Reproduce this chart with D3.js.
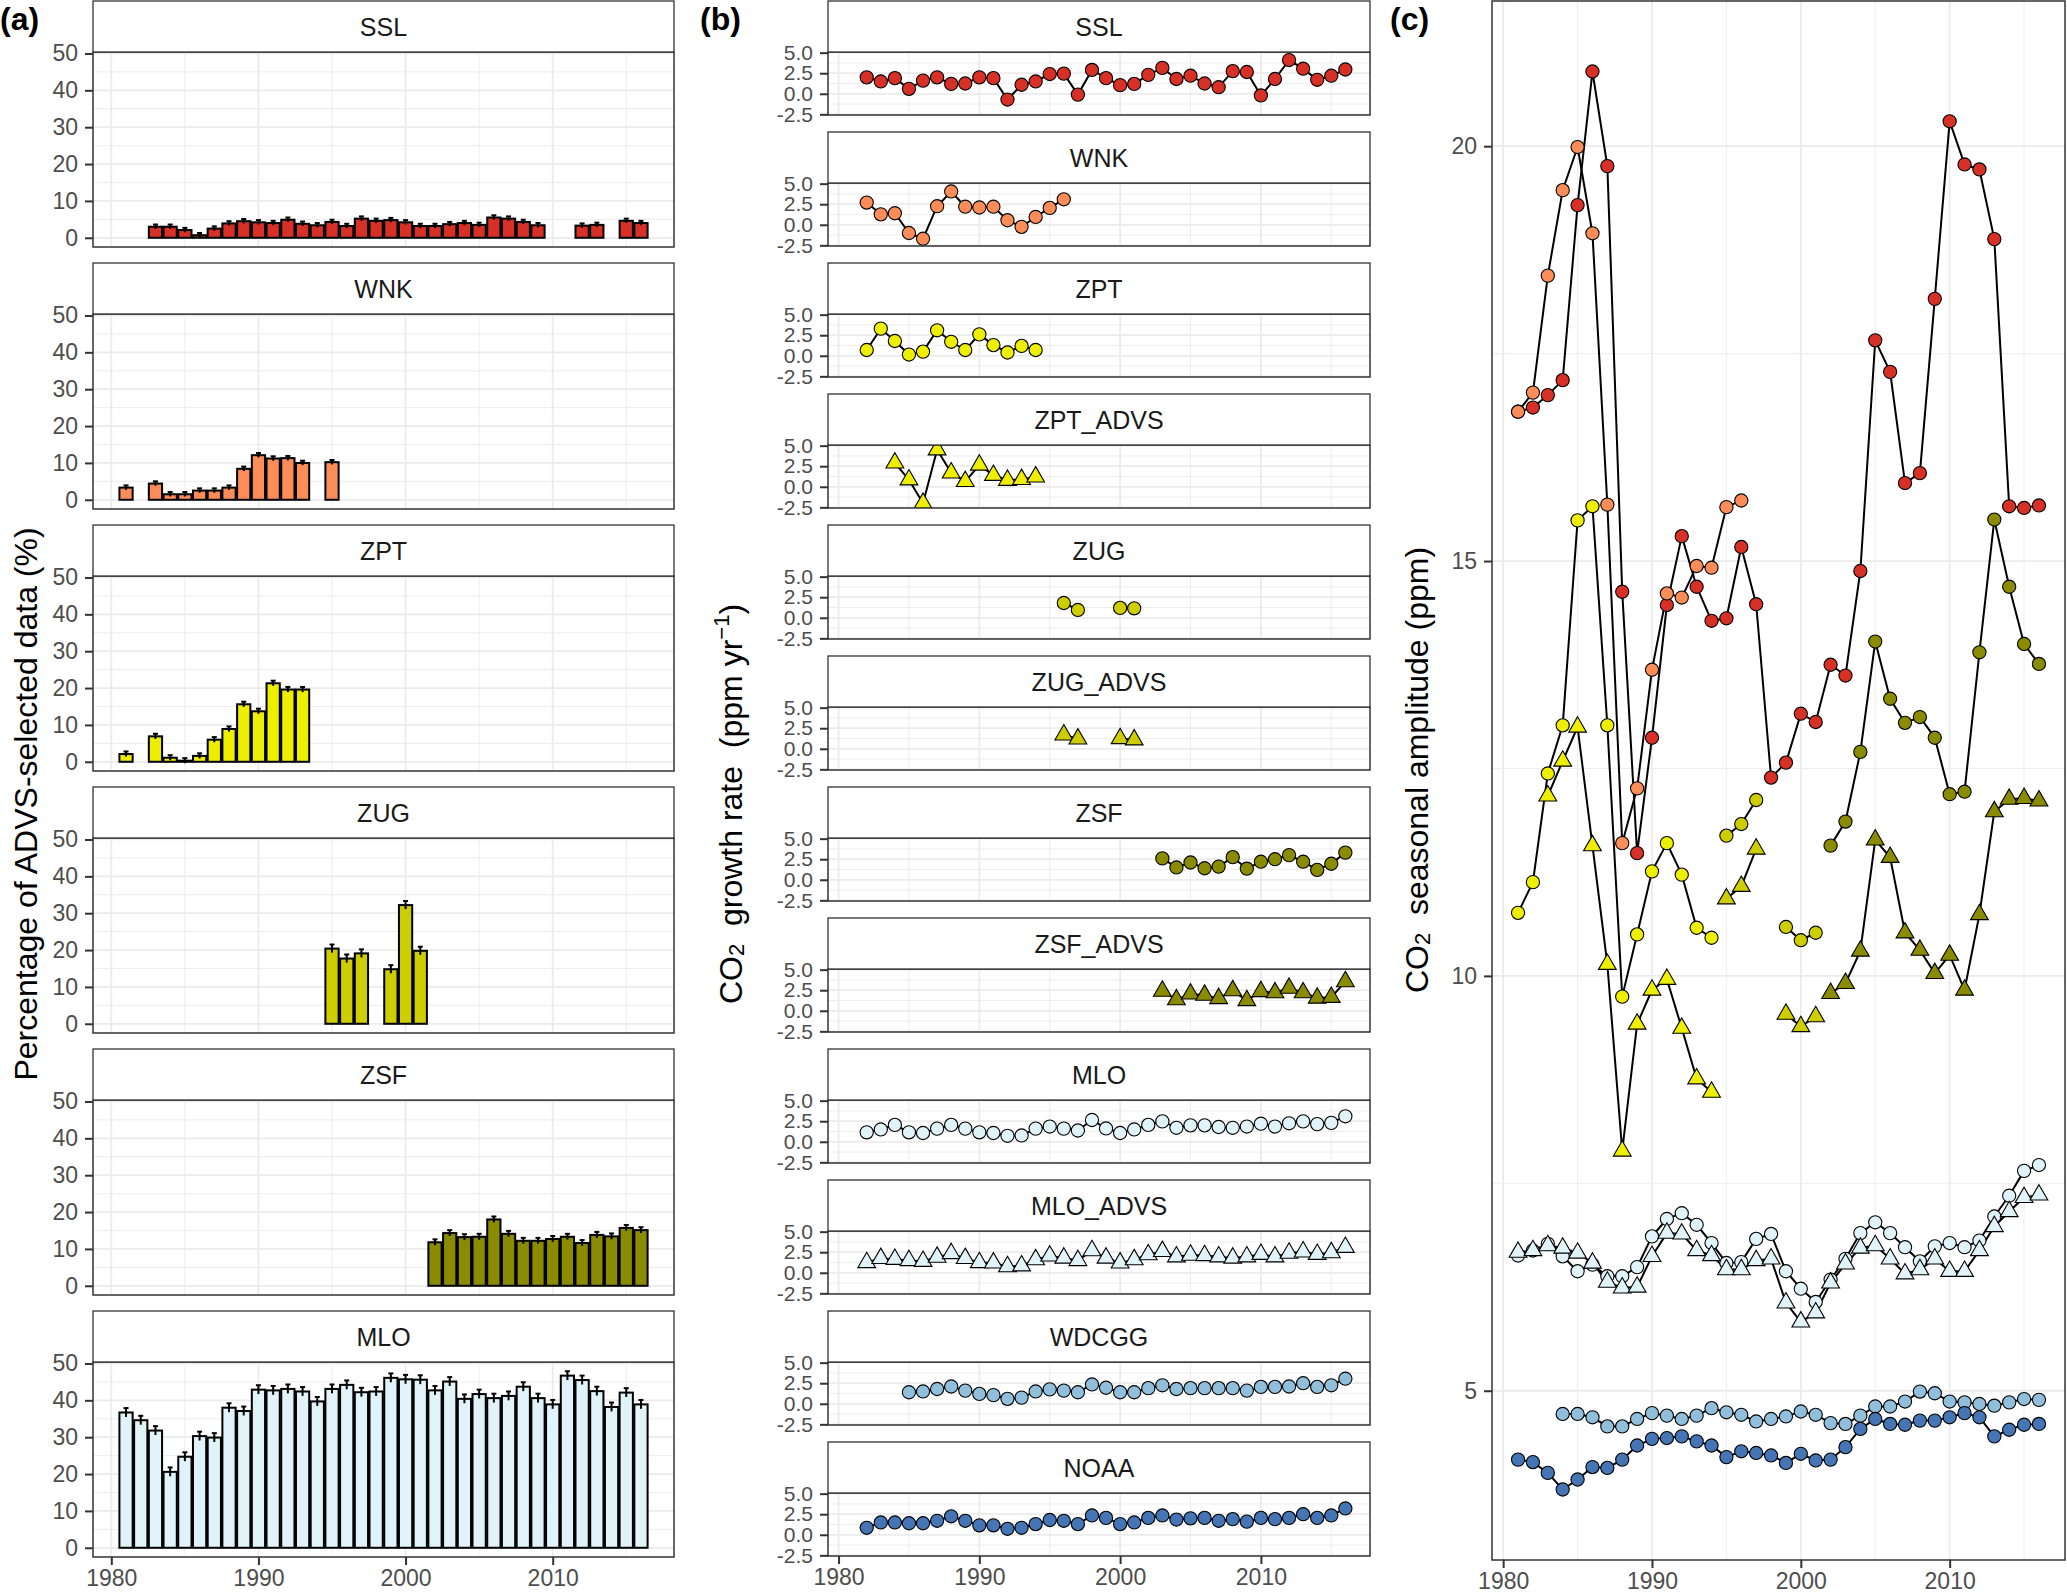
<!DOCTYPE html>
<html>
<head>
<meta charset="utf-8">
<script src="https://cdn.jsdelivr.net/npm/d3@7"></script>
<style>
  body { margin: 0; background: #fff; }
  svg { display: block; }
</style>
</head>
<body>
<div id="chart"></div>
<script>
// ---- data ---------------------------------------------------------------
const _ = null;
const blank = n => Array(n).fill(null);

const years = [1981, 1982, 1983, 1984, 1985, 1986, 1987, 1988, 1989, 1990,
  1991, 1992, 1993, 1994, 1995, 1996, 1997, 1998, 1999, 2000,
  2001, 2002, 2003, 2004, 2005, 2006, 2007, 2008, 2009, 2010,
  2011, 2012, 2013, 2014, 2015, 2016];

const xTicks = [1980, 1990, 2000, 2010];
const xMinorTicks = [1985, 1995, 2005, 2015];

// (a) percentage of ADVS-selected data (%)
const barStations = ['SSL', 'WNK', 'ZPT', 'ZUG', 'ZSF', 'MLO'];
const barSSL = [_, _, 3.0, 3.0, 2.1, 0.7, 2.5, 3.9, 4.5, 4.2, 4.0, 4.9, 3.8, 3.4, 4.3, 3.2, 5.2, 4.6,
  4.8, 4.2, 3.2, 3.2, 3.7, 4.0, 3.5, 5.5, 5.2, 4.3, 3.4, _, _, 3.3, 3.5, _, 4.6, 4.0];
const barWNK = [3.3, _, 4.4, 1.5, 1.5, 2.5, 2.5, 3.3, 8.4, 12.1, 11.2, 11.3, 10.0, _, 10.2, ...blank(21)];
const barZPT = [2.1, _, 6.9, 1.1, 0.3, 1.6, 6.0, 8.9, 15.6, 13.7, 21.3, 19.6, 19.6, ...blank(23)];
const barZUG = [...blank(14), 20.4, 17.7, 19.1, _, 14.8, 32.2, 19.8, ...blank(15)];
const barZSF = [...blank(21), 11.8, 14.3, 13.2, 13.3, 18.0, 14.1, 12.2, 12.2, 12.7, 13.3, 11.6,
  13.8, 13.4, 15.7, 15.1];
const barMLO = [36.7, 34.6, 31.8, 20.6, 24.7, 30.3, 29.9, 38.0, 37.1, 42.9, 42.7, 43.1, 42.4, 39.7,
  43.1, 44.2, 42.2, 42.4, 46.1, 45.7, 45.6, 42.7, 45.1, 40.4, 41.7, 40.6, 41.2, 43.7, 40.6, 38.9,
  46.7, 45.5, 42.5, 38.2, 42.1, 38.9];
const barErr = [0.6, 0.6, 0.7, 1.1, 0.8, 1.2];
const barTicks = [0, 10, 20, 30, 40, 50];

// (b) CO2 growth rate (ppm/yr)
const lineStations = ['SSL', 'WNK', 'ZPT', 'ZPT_ADVS', 'ZUG', 'ZUG_ADVS', 'ZSF', 'ZSF_ADVS',
  'MLO', 'MLO_ADVS', 'WDCGG', 'NOAA'];
const grSSL = [_, 2.0, 1.5, 1.9, 0.6, 1.6, 2.0, 1.2, 1.25, 2.0, 1.9, -0.7, 1.1, 1.5, 2.4, 2.45, -0.1,
  2.9, 1.9, 1.05, 1.2, 2.3, 3.15, 1.8, 2.2, 1.25, 0.8, 2.75, 2.65, -0.2, 1.8, 4.1, 3.05, 1.7, 2.2, 2.95];
const grWNK = [_, 2.7, 1.27, 1.4, -1.0, -1.7, 2.26, 4.05, 2.2, 2.1, 2.2, 0.55, -0.25, 0.95, 2.05, 3.1,
  ...blank(20)];
const grZPT = [_, 0.7, 3.3, 1.8, 0.15, 0.5, 3.1, 1.7, 0.7, 2.6, 1.3, 0.4, 1.2, 0.7, ...blank(22)];
const grZPT_ADVS = [...blank(3), 2.9, 0.85, -2.0, 4.5, 1.7, 0.65, 2.65, 1.4, 0.8, 0.9, 1.2, ...blank(22)];
const grZUG = [...blank(15), 1.8, 0.95, _, _, 1.2, 1.15, ...blank(15)];
const grZUG_ADVS = [...blank(15), 1.7, 1.2, _, _, 1.25, 1.1, ...blank(15)];
const grZSF = [...blank(22), 2.6, 1.5, 2.1, 1.4, 1.6, 2.75, 1.35, 2.2, 2.5, 3.0, 2.2, 1.2, 1.95, 3.3];
const grZSF_ADVS = [...blank(22), 2.4, 1.35, 2.05, 1.9, 1.5, 2.45, 1.25, 2.35, 2.2, 2.75, 2.2, 1.55,
  1.65, 3.55];
const grMLO = [_, 1.15, 1.5, 2.05, 1.15, 1.07, 1.6, 2.05, 1.6, 1.15, 1.07, 0.73, 0.77, 1.6, 1.85, 1.6,
  1.37, 2.65, 1.62, 1.07, 1.5, 2.05, 2.48, 1.7, 2.0, 2.0, 1.8, 1.7, 1.85, 2.2, 1.85, 2.25, 2.48, 2.15,
  2.3, 3.1];
const grMLO_ADVS = [_, 1.25, 1.75, 1.65, 1.5, 1.4, 1.9, 2.35, 1.75, 1.25, 1.2, 0.75, 0.85, 1.6, 2.05,
  1.8, 1.5, 2.7, 1.8, 1.2, 1.6, 2.2, 2.6, 1.95, 2.15, 2.1, 1.95, 1.8, 1.95, 2.25, 1.95, 2.4, 2.55,
  2.25, 2.45, 3.1];
const grWDCGG = [...blank(4), 1.4, 1.5, 1.8, 2.1, 1.6, 1.2, 1.05, 0.6, 0.75, 1.5, 1.75, 1.6, 1.4, 2.35,
  1.95, 1.4, 1.4, 1.9, 2.25, 1.8, 1.9, 1.9, 1.9, 1.9, 1.6, 2.05, 2.05, 2.1, 2.5, 2.05, 2.25, 3.05];
const grNOAA = [_, 0.85, 1.5, 1.5, 1.4, 1.4, 1.7, 2.25, 1.7, 1.15, 1.15, 0.73, 0.85, 1.3, 1.8, 1.7,
  1.3, 2.35, 2.05, 1.3, 1.5, 2.05, 2.35, 1.85, 2.0, 2.05, 1.7, 1.9, 1.6, 2.05, 1.9, 2.05, 2.5, 2.05,
  2.35, 3.2];
const grTicks = [-2.5, 0, 2.5, 5];

// (c) CO2 seasonal amplitude (ppm)
const ampSSL = [16.8, 16.85, 17.0, 17.18, 19.29, 20.9, 19.76, 14.63, 11.48, 12.87, 14.47, 15.3,
  14.69, 14.28, 14.31, 15.17, 14.48, 12.39, 12.57, 13.16, 13.06, 13.75, 13.62, 14.88, 17.66, 17.28,
  15.94, 16.06, 18.16, 20.3, 19.78, 19.72, 18.88, 15.66, 15.64, 15.67];
const ampWNK = [16.8, 17.03, 18.44, 19.47, 19.99, 18.95, 15.68, 11.6, 12.26, 13.69, 14.61, 14.56,
  14.94, 14.92, 15.65, 15.73, ...blank(20)];
const ampZPT = [10.76, 11.13, 12.44, 13.02, 15.49, 15.66, 13.02, 9.75, 10.5, 11.26, 11.6, 11.22,
  10.58, 10.46, ...blank(22)];
const ampZPT_ADVS = [_, _, 12.17, 12.59, 13.0, 11.57, 10.14, 7.89, 9.42, 9.83, 9.96, 9.37, 8.76, 8.6,
  ...blank(22)];
const ampZUG = [...blank(14), 11.69, 11.83, 12.12, _, 10.59, 10.43, 10.52, ...blank(15)];
const ampZUG_ADVS = [...blank(14), 10.93, 11.08, 11.53, _, 9.54, 9.39, 9.51, ...blank(15)];
const ampZSF = [...blank(21), 11.57, 11.86, 12.7, 14.03, 13.34, 13.05, 13.12, 12.87, 12.19, 12.22,
  13.9, 15.5, 14.69, 14.0, 13.76];
const ampZSF_ADVS = [...blank(21), 9.79, 9.91, 10.3, 11.64, 11.43, 10.52, 10.31, 10.03, 10.25, 9.83,
  10.74, 11.98, 12.13, 12.14, 12.11];
const ampMLO = [6.63, 6.69, 6.77, 6.62, 6.44, 6.52, 6.38, 6.38, 6.49, 6.86, 7.07, 7.14, 7.0, 6.78,
  6.54, 6.55, 6.83, 6.89, 6.44, 6.23, 6.07, 6.34, 6.59, 6.9, 7.03, 6.9, 6.73, 6.56, 6.74, 6.78, 6.73,
  6.81, 7.1, 7.35, 7.65, 7.72];
const ampMLO_ADVS = [6.67, 6.69, 6.75, 6.72, 6.66, 6.54, 6.31, 6.24, 6.25, 6.62, 6.9, 6.89, 6.69,
  6.63, 6.46, 6.46, 6.57, 6.59, 6.06, 5.83, 5.94, 6.3, 6.53, 6.72, 6.75, 6.59, 6.41, 6.46, 6.59,
  6.44, 6.44, 6.69, 6.98, 7.16, 7.33, 7.36];
const ampWDCGG = [_, _, _, 4.72, 4.72, 4.68, 4.57, 4.57, 4.66, 4.73, 4.7, 4.66, 4.7, 4.79, 4.74, 4.71,
  4.63, 4.66, 4.69, 4.75, 4.71, 4.61, 4.6, 4.7, 4.81, 4.81, 4.87, 4.99, 4.97, 4.87, 4.86, 4.84, 4.82,
  4.86, 4.9, 4.89];
const ampNOAA = [4.17, 4.14, 4.01, 3.81, 3.93, 4.08, 4.07, 4.17, 4.34, 4.42, 4.43, 4.45, 4.39, 4.34,
  4.2, 4.27, 4.25, 4.22, 4.13, 4.24, 4.16, 4.17, 4.32, 4.54, 4.66, 4.6, 4.59, 4.64, 4.64, 4.68, 4.73,
  4.68, 4.45, 4.53, 4.59, 4.6];
const ampTicks = [5, 10, 15, 20];

// station colours
const stationColor = {
  SSL: '#d73027', WNK: '#fc8d59', ZPT: '#eeee00', ZUG: '#cdcd00', ZSF: '#8b8b00',
  MLO: '#e0f3f8', WDCGG: '#91bfdb', NOAA: '#4575b4'
};

// tables built from the arrays above
const barTable = [barSSL, barWNK, barZPT, barZUG, barZSF, barMLO].map((vals, i) => ({
  name: barStations[i], fill: stationColor[barStations[i]], err: barErr[i],
  rows: years.map((y, j) => ({ year: y, value: vals[j] })).filter(d => d.value != null)
}));
function lineTable(arrays) {
  return arrays.map((vals, i) => {
    const name = lineStations[i];
    return {
      name, fill: stationColor[name.replace('_ADVS', '')], tri: name.endsWith('_ADVS'),
      rows: years.map((y, j) => ({ year: y, value: vals[j] }))
    };
  });
}
const growthTable = lineTable([grSSL, grWNK, grZPT, grZPT_ADVS, grZUG, grZUG_ADVS, grZSF,
  grZSF_ADVS, grMLO, grMLO_ADVS, grWDCGG, grNOAA]);
const ampTable = lineTable([ampSSL, ampWNK, ampZPT, ampZPT_ADVS, ampZUG, ampZUG_ADVS, ampZSF,
  ampZSF_ADVS, ampMLO, ampMLO_ADVS, ampWDCGG, ampNOAA]);

// ---- layout -------------------------------------------------------------
const W = 2067, H = 1594;
const font = '"Liberation Sans", Arial, Helvetica, sans-serif';
const pA = { left: 93, right: 674, top: 1, pitch: 262, strip: 51, plot: 195 };
const pB = { left: 828, right: 1370, top: 1, pitch: 131, strip: 51, plot: 63 };
const pC = { left: 1492, right: 2065, top: 1, bottom: 1560 };
const R = 6.6; // point radius

const svg = d3.select('#chart').append('svg')
  .attr('width', W).attr('height', H)
  .style('font-family', font);
svg.append('rect').attr('width', W).attr('height', H).attr('fill', '#fff');
const defs = svg.append('defs');
let clipId = 0;

function styleAxis(sel, size) {
  sel.attr('font-family', null).attr('font-size', null);
  sel.select('.domain').remove();
  sel.selectAll('.tick line').attr('stroke', '#333').attr('stroke-width', 2);
  sel.selectAll('.tick text').attr('fill', '#4d4d4d').style('font-size', size + 'px')
    .style('font-family', font);
}

// background grid, axes and clip for one panel; returns the group for marks
function drawPanel(g, w, h, x, y, yMajor, yFmt, showX, ySize) {
  const yMinor = d3.pairs(yMajor).map(p => (p[0] + p[1]) / 2);
  const grid = g.append('g');
  grid.selectAll('.ymin').data(yMinor).join('line')
    .attr('x1', 0).attr('x2', w).attr('y1', d => y(d)).attr('y2', d => y(d))
    .attr('stroke', '#ebebeb').attr('stroke-width', 0.9);
  grid.selectAll('.xmin').data(xMinorTicks).join('line')
    .attr('y1', 0).attr('y2', h).attr('x1', d => x(d)).attr('x2', d => x(d))
    .attr('stroke', '#ebebeb').attr('stroke-width', 0.9);
  grid.selectAll('.ymaj').data(yMajor).join('line')
    .attr('x1', 0).attr('x2', w).attr('y1', d => y(d)).attr('y2', d => y(d))
    .attr('stroke', '#ebebeb').attr('stroke-width', 1.8);
  grid.selectAll('.xmaj').data(xTicks).join('line')
    .attr('y1', 0).attr('y2', h).attr('x1', d => x(d)).attr('x2', d => x(d))
    .attr('stroke', '#ebebeb').attr('stroke-width', 1.8);

  g.append('g')
    .call(d3.axisLeft(y).tickValues(yMajor).tickSize(8).tickPadding(7).tickFormat(yFmt))
    .call(styleAxis, ySize);
  if (showX) {
    g.append('g').attr('transform', `translate(0,${h})`)
      .call(d3.axisBottom(x).tickValues(xTicks).tickSize(8).tickPadding(5).tickFormat(d3.format('d')))
      .call(styleAxis, 23);
  }
  const id = 'clip' + (clipId++);
  defs.append('clipPath').attr('id', id).append('rect').attr('width', w).attr('height', h);
  return g.append('g').attr('clip-path', `url(#${id})`);
}

function drawBorder(g, w, h) {
  g.append('rect').attr('width', w).attr('height', h)
    .attr('fill', 'none').attr('stroke', '#333').attr('stroke-width', 1.5);
}

function drawStrip(g, w, stripH, label) {
  g.append('rect').attr('y', -stripH).attr('width', w).attr('height', stripH)
    .attr('fill', '#fff').attr('stroke', '#333').attr('stroke-width', 1.3);
  g.append('text').attr('x', w / 2).attr('y', -stripH / 2)
    .attr('text-anchor', 'middle').attr('dominant-baseline', 'central')
    .attr('fill', '#1a1a1a').style('font-size', '25px').text(label);
}

function triPath(r) {
  const a = 1.555 * r, b = 1.347 * r, c = 0.778 * r;
  return `M0,${-a}L${b},${c}L${-b},${c}Z`;
}

function drawSeries(marks, s, x, y) {
  const pts = s.rows.filter(d => d.value != null);
  const sel = marks.append('g').selectAll('.pt').data(pts);
  if (s.tri) {
    sel.join('path').attr('d', triPath(R))
      .attr('transform', d => `translate(${x(d.year)},${y(d.value)})`)
      .attr('fill', s.fill).attr('stroke', '#000').attr('stroke-width', 1.1);
  } else {
    sel.join('circle').attr('cx', d => x(d.year)).attr('cy', d => y(d.value)).attr('r', R)
      .attr('fill', s.fill).attr('stroke', '#000').attr('stroke-width', 1.1);
  }
}

function drawLine(marks, s, x, y) {
  const line = d3.line().defined(d => d.value != null).x(d => x(d.year)).y(d => y(d.value));
  marks.append('path').datum(s.rows).attr('d', line)
    .attr('fill', 'none').attr('stroke', '#000').attr('stroke-width', 2);
}

// ---- (a) bars -----------------------------------------------------------
const wA = pA.right - pA.left;
const xA = d3.scaleLinear().domain([1978.755, 2018.245]).range([0, wA]);
const yA = d3.scaleLinear().domain([-2.5, 50.4]).range([pA.plot, 0]);

barTable.forEach((s, i) => {
  const g = svg.append('g')
    .attr('transform', `translate(${pA.left},${pA.top + i * pA.pitch + pA.strip})`);
  const marks = drawPanel(g, wA, pA.plot, xA, yA, barTicks, d3.format('d'),
    i === barTable.length - 1, 23);
  const bw = xA(1.45) - xA(0.55);
  marks.selectAll('.bar').data(s.rows).join('rect')
    .attr('x', d => xA(d.year - 0.45)).attr('width', bw)
    .attr('y', d => yA(d.value)).attr('height', d => yA(0) - yA(d.value))
    .attr('fill', s.fill).attr('stroke', '#000').attr('stroke-width', 2);
  const eb = marks.append('g').attr('stroke', '#000').attr('stroke-width', 2);
  eb.selectAll('.ev').data(s.rows).join('line')
    .attr('x1', d => xA(d.year)).attr('x2', d => xA(d.year))
    .attr('y1', d => yA(d.value - s.err)).attr('y2', d => yA(d.value + s.err));
  eb.selectAll('.ec').data(s.rows).join('line')
    .attr('x1', d => xA(d.year) - 2.5).attr('x2', d => xA(d.year) + 2.5)
    .attr('y1', d => yA(d.value + s.err)).attr('y2', d => yA(d.value + s.err));
  drawBorder(g, wA, pA.plot);
  drawStrip(g, wA, pA.strip, s.name);
});

// ---- (b) growth rate ----------------------------------------------------
const wB = pB.right - pB.left;
const xB = d3.scaleLinear().domain([1979.25, 2017.75]).range([0, wB]);
const yB = d3.scaleLinear().domain([-2.58, 5.08]).range([pB.plot, 0]);

growthTable.forEach((s, i) => {
  const g = svg.append('g')
    .attr('transform', `translate(${pB.left},${pB.top + i * pB.pitch + pB.strip})`);
  const marks = drawPanel(g, wB, pB.plot, xB, yB, grTicks, d => d.toFixed(1),
    i === growthTable.length - 1, 21);
  drawLine(marks, s, xB, yB);
  drawSeries(marks, s, xB, yB);
  drawBorder(g, wB, pB.plot);
  drawStrip(g, wB, pB.strip, s.name);
});

// ---- (c) seasonal amplitude ---------------------------------------------
const wC = pC.right - pC.left, hC = pC.bottom - pC.top;
const xC = d3.scaleLinear().domain([1979.25, 2017.75]).range([0, wC]);
const yC = d3.scaleLinear().domain([2.96, 21.75]).range([hC, 0]);
const gC = svg.append('g').attr('transform', `translate(${pC.left},${pC.top})`);
const marksC = drawPanel(gC, wC, hC, xC, yC, ampTicks, d3.format('d'), true, 23);
ampTable.forEach(s => drawLine(marksC, s, xC, yC));
ampTable.forEach(s => drawSeries(marksC, s, xC, yC));
drawBorder(gC, wC, hC);

// ---- titles and panel letters --------------------------------------------
function yTitle(cx, cy, parts) {
  const t = svg.append('text')
    .attr('transform', `translate(${cx},${cy}) rotate(-90)`)
    .attr('text-anchor', 'middle').attr('dominant-baseline', 'central')
    .attr('fill', '#000').style('font-size', '32px');
  parts.forEach(p => {
    const ts = t.append('tspan').text(p.text);
    if (p.sub) ts.attr('baseline-shift', '-25%').style('font-size', '22px');
    if (p.sup) ts.attr('baseline-shift', '45%').style('font-size', '22px');
  });
}
yTitle(26, 804, [{ text: 'Percentage of ADVS-selected data (%)' }]);
yTitle(731, 804, [{ text: 'CO' }, { text: '2', sub: true }, { text: '\u00a0 growth rate \u00a0(ppm yr' },
  { text: '\u22121', sup: true }, { text: ')' }]);
yTitle(1417, 770, [{ text: 'CO' }, { text: '2', sub: true },
  { text: '\u00a0 seasonal amplitude (ppm)' }]);

[['(a)', 0], ['(b)', 700], ['(c)', 1390]].forEach(([lab, x]) => {
  svg.append('text').attr('x', x).attr('y', 30)
    .style('font-size', '32px').style('font-weight', 'bold').attr('fill', '#000').text(lab);
});
</script>
</body>
</html>
